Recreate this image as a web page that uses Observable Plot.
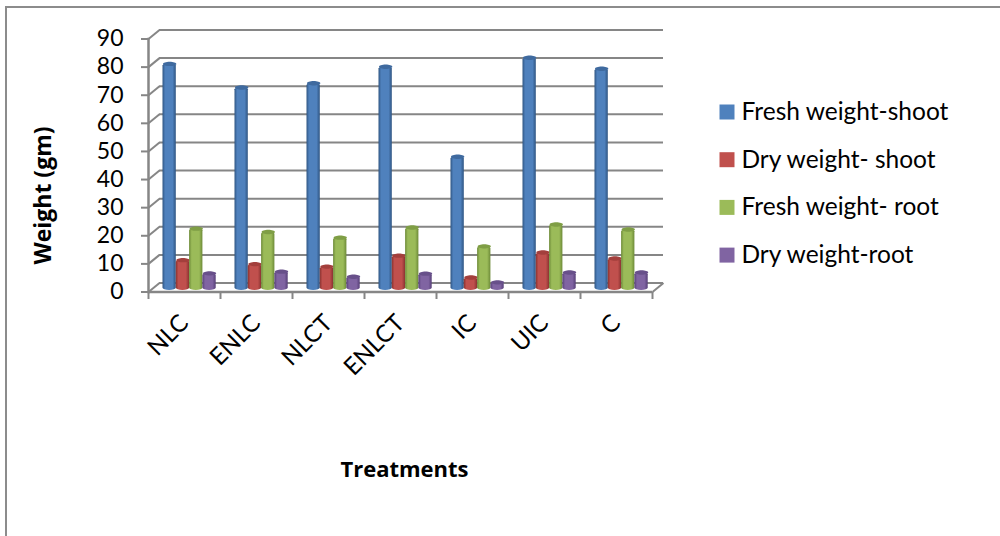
<!DOCTYPE html>
<html>
<head>
<meta charset="utf-8">
<script src="https://cdn.jsdelivr.net/npm/d3@7"></script>
<script src="https://cdn.jsdelivr.net/npm/@observablehq/plot@0.6"></script>
<style>
  html, body { margin: 0; background: #fff; }
  #chart { position: relative; width: 1000px; height: 536px; overflow: hidden; }
  #chart svg { display: block; position: absolute; left: 0; top: 0; background: transparent; }
  #edge { position: absolute; left: 5px; top: 6px; right: -4px; bottom: -4px;
          border-left: 2px solid #8c8c8c; border-top: 2px solid #8c8c8c; }
</style>
</head>
<body>
<div id="chart"><div id="edge"></div></div>
<script>
const treatments = ["NLC", "ENLC", "NLCT", "ENLCT", "IC", "UIC", "C"];
const seriesNames = ["Fresh weight-shoot", "Dry weight- shoot", "Fresh weight- root", "Dry weight-root"];
const freshShoot = [80.6, 72.2, 73.7, 79.6, 47.6, 82.8, 78.9];
const dryShoot = [10.8, 9.4, 8.5, 12.4, 4.6, 13.5, 11.4];
const freshRoot = [22.0, 20.8, 18.8, 22.4, 15.7, 23.5, 21.7];
const dryRoot = [6.1, 6.7, 4.9, 6.0, 2.9, 6.4, 6.4];
const yTicks = [0, 10, 20, 30, 40, 50, 60, 70, 80, 90];
const seriesValues = [freshShoot, dryShoot, freshRoot, dryRoot];

const faces = ["#4f81bd", "#c0504d", "#9bbb59", "#8064a2"];
const shades = ["#2f5582", "#8a3331", "#6d8a38", "#573f78"];
const caps = ["#3f6a9f", "#a33f3c", "#7f9e45", "#68508a"];

const wall = "#868686";
const bodyFont = "Lato, 'Noto Sans', sans-serif";
const titleFont = "'Open Sans', sans-serif";
const depthX = 11, depthY = -9;        // offset of the back wall from the front plane
const band = 72, barWidth = 13.3, barStart = 14.5, barLift = -1.5;

// Small stroked or filled paths used as dot symbols.
const slant = { draw(c) { c.moveTo(0, 0); c.lineTo(depthX, depthY); } };
const drop = { draw(c) { c.moveTo(0, 0); c.lineTo(0, 7); } };
const cap = { draw(c) {
  const a = barWidth / 2, b = 2.2, k = 0.5523;
  c.moveTo(-a, 0);
  c.bezierCurveTo(-a, -b * k, -a * k, -b, 0, -b);
  c.bezierCurveTo(a * k, -b, a, -b * k, a, 0);
  c.bezierCurveTo(a, b * k, a * k, b, 0, b);
  c.bezierCurveTo(-a * k, b, -a, b * k, -a, 0);
  c.closePath();
} };
const swatch = { draw(c) { c.rect(-7.5, -7.5, 15, 15); } };

// Horizontal shading that makes each bar read as a cylinder.
const gradients = () => {
  const defs = d3.create("svg:defs");
  faces.forEach((face, i) => {
    const g = defs.append("linearGradient").attr("id", `bar${i}`);
    [[0, shades[i]], [0.2, face], [0.75, face], [1, shades[i]]].forEach(([o, col]) =>
      g.append("stop").attr("offset", o).attr("stop-color", col));
  });
  return defs.node();
};

const rows = treatments.flatMap((t, j) =>
  seriesValues.map((vals, i) => ({ treatment: t, series: i, value: vals[j] })));

const barMarks = [0, 1, 2, 3].flatMap(i => {
  const part = rows.filter(r => r.series === i);
  return [
    Plot.barY(part, {
      x: "treatment", y: "value", fill: `url(#bar${i})`,
      insetRight: band - barWidth, dx: barStart + i * barWidth, dy: barLift, rx: barWidth / 2, ry: 2.2
    }),
    Plot.dot(part, {
      x: "treatment", y: "value", symbol: cap, fill: caps[i], stroke: "none",
      dx: barStart + i * barWidth + barWidth / 2 - band / 2, dy: barLift
    })
  ];
});

const legendMarks = seriesNames.flatMap((name, i) => [
  Plot.dot([name], {
    frameAnchor: "top-left", symbol: swatch, fill: faces[i], stroke: "none",
    dx: 726.5 - 148, dy: 111.5 - 38.5 + i * 47.7
  }),
  Plot.text([name], {
    text: d => d, frameAnchor: "top-left", textAnchor: "start", lineAnchor: "middle",
    fontFamily: bodyFont, fontSize: 24.5, fill: "#000",
    dx: 741 - 148, dy: 111.5 - 38.5 + i * 47.7
  })
]);

const chart = Plot.plot({
  width: 1000,
  height: 536,
  marginLeft: 148,
  marginRight: 348,
  marginTop: 38.5,
  marginBottom: 244.5,
  style: { fontFamily: bodyFont, background: "transparent", color: "#000" },
  x: { domain: treatments, padding: 0, axis: null },
  y: { domain: [0, 90], axis: null },
  marks: [
    gradients,
    // Back wall, floor edge and the slanted wall lines
    Plot.ruleY(yTicks, { y: d => d, stroke: wall, strokeWidth: 2, dx: depthX, dy: depthY }),
    Plot.dot(yTicks, { y: d => d, frameAnchor: "left", symbol: slant, stroke: wall, strokeWidth: 2, fill: "none" }),
    Plot.dot([0], { y: d => d, frameAnchor: "right", symbol: slant, stroke: wall, strokeWidth: 2, fill: "none" }),
    Plot.ruleY([0], { stroke: wall, strokeWidth: 2.5 }),
    Plot.frame({ anchor: "left", stroke: wall, strokeWidth: 2.5 }),
    // Axis ticks and labels
    Plot.axisY(yTicks, { tickSize: 7, tickPadding: 18, fontFamily: bodyFont, fontSize: 23, stroke: wall, strokeWidth: 2, label: null, tickFormat: d => d }),
    Plot.dot(treatments, { x: d => d, frameAnchor: "bottom", symbol: drop, stroke: wall, strokeWidth: 2, fill: "none", dx: -band / 2 }),
    Plot.dot(treatments.slice(-1), { x: d => d, frameAnchor: "bottom", symbol: drop, stroke: wall, strokeWidth: 2, fill: "none", dx: band / 2 }),
    Plot.text(treatments, {
      x: d => d, text: d => d, frameAnchor: "bottom", rotate: -45, textAnchor: "end",
      lineAnchor: "middle", fontFamily: bodyFont, fontSize: 24, fill: "#000", dx: 0, dy: 27
    }),
    ...barMarks,
    // Axis titles
    Plot.text(["Weight (gm)"], {
      text: d => d, frameAnchor: "left", textAnchor: "middle", rotate: -90,
      fontFamily: titleFont, fontSize: 23, fontWeight: 700, fill: "#000",
      dx: 43 - 148, dy: 30
    }),
    Plot.text(["Treatments"], {
      text: d => d, frameAnchor: "bottom", lineAnchor: "middle",
      fontFamily: titleFont, fontSize: 22, fontWeight: 700, fill: "#000",
      dx: 4, dy: 177.5
    }),
    ...legendMarks
  ]
});
document.getElementById("chart").appendChild(chart);
</script>
</body>
</html>
